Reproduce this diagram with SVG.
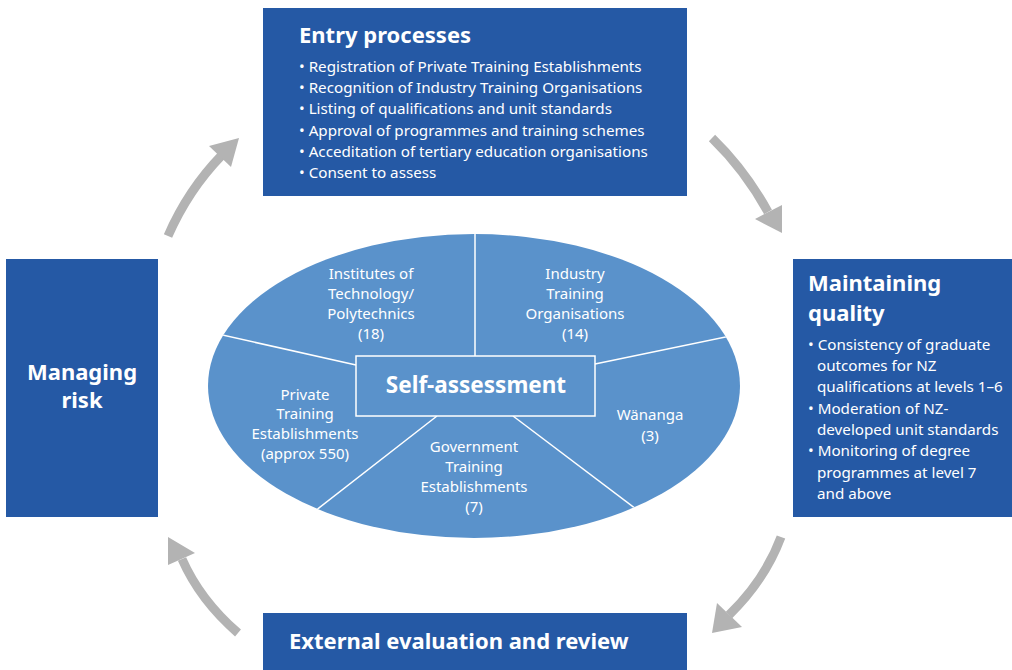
<svg xmlns="http://www.w3.org/2000/svg" width="1012" height="670" viewBox="0 0 1012 670">
<style>
.box{fill:#2559a5}
.t{font-family:"Noto Sans","Liberation Sans",sans-serif;fill:#fff}
.h{font-size:22px;font-weight:bold}
.b{font-size:15.2px}
.e{font-size:15px;text-anchor:middle}
.sh{fill:none;stroke:#b3b3b3;stroke-width:9}
.hd{fill:#b3b3b3}
.sep{stroke:#fff;stroke-width:1.5;fill:none}
</style>
<defs>
<clipPath id="ec"><ellipse cx="474" cy="386" rx="266" ry="152"/></clipPath>
</defs>
<rect width="1012" height="670" fill="#fff"/>
<g id="entry">
<rect class="box" x="263" y="8" width="424" height="188"/>
<text class="t h" x="299" y="43">Entry processes</text>
<text class="t b" x="299" y="72">• Registration of Private Training Establishments</text>
<text class="t b" x="299" y="93">• Recognition of Industry Training Organisations</text>
<text class="t b" x="299" y="114">• Listing of qualifications and unit standards</text>
<text class="t b" x="299" y="136">• Approval of programmes and training schemes</text>
<text class="t b" x="299" y="157">• Acceditation of tertiary education organisations</text>
<text class="t b" x="299" y="178">• Consent to assess</text>
</g>
<g id="managing">
<rect class="box" x="6" y="259" width="152" height="258"/>
<text class="t h" x="82" y="380" text-anchor="middle">Managing</text>
<text class="t h" x="82" y="408" text-anchor="middle">risk</text>
</g>
<g id="maintaining">
<rect class="box" x="793" y="259" width="219" height="258"/>
<text class="t h" x="808" y="291">Maintaining</text>
<text class="t h" x="808" y="321">quality</text>
<text class="t b" x="808" y="350">• Consistency of graduate</text>
<text class="t b" x="817" y="371">outcomes for NZ</text>
<text class="t b" x="817" y="392">qualifications at levels 1–6</text>
<text class="t b" x="808" y="414">• Moderation of NZ-</text>
<text class="t b" x="817" y="435">developed unit standards</text>
<text class="t b" x="808" y="456">• Monitoring of degree</text>
<text class="t b" x="817" y="478">programmes at level 7</text>
<text class="t b" x="817" y="499">and above</text>
</g>
<g id="external">
<rect class="box" x="263" y="613" width="424" height="57"/>
<text class="t h" x="289" y="649">External evaluation and review</text>
</g>
<g id="sectors">
<ellipse cx="474" cy="386" rx="266" ry="152" fill="#5a92cb"/>
<g clip-path="url(#ec)">
<path class="sep" d="M475,230 L475,356"/>
<path class="sep" d="M200,330 L356,365"/>
<path class="sep" d="M595,364 L750,332"/>
<path class="sep" d="M437,416 L315,511"/>
<path class="sep" d="M513,416 L640,512"/>
</g>
<text class="t e" x="371" y="279">Institutes of</text>
<text class="t e" x="371" y="299">Technology/</text>
<text class="t e" x="371" y="319">Polytechnics</text>
<text class="t e" x="371" y="339">(18)</text>
<text class="t e" x="575" y="279">Industry</text>
<text class="t e" x="575" y="299">Training</text>
<text class="t e" x="575" y="319">Organisations</text>
<text class="t e" x="575" y="339">(14)</text>
<text class="t e" x="305" y="400">Private</text>
<text class="t e" x="305" y="419">Training</text>
<text class="t e" x="305" y="439">Establishments</text>
<text class="t e" x="305" y="459">(approx 550)</text>
<text class="t e" x="474" y="452">Government</text>
<text class="t e" x="474" y="472">Training</text>
<text class="t e" x="474" y="492">Establishments</text>
<text class="t e" x="474" y="512">(7)</text>
<text class="t e" x="650" y="420">Wänanga</text>
<text class="t e" x="650" y="441">(3)</text>
</g>
<g id="self">
<rect x="356" y="356" width="239" height="60" fill="#5a92cb" stroke="#fff" stroke-width="1.5"/>
<text class="t h" x="476" y="393" text-anchor="middle" style="font-size:22.5px">Self-assessment</text>
</g>
<g id="connectors">
<path class="sh" d="M168,236 Q188,190 222,155"/>
<polygon class="hd" points="209,146 239,138 231,167"/>
<path class="sh" d="M712,138 Q745,170 768,212"/>
<polygon class="hd" points="755,219 782,205 782,233"/>
<path class="sh" d="M781,537 Q765,580 729,615"/>
<polygon class="hd" points="717,603 742,627 712,633"/>
<path class="sh" d="M238,633 Q200,600 182,559"/>
<polygon class="hd" points="168,537 195,553 168,565"/>
</g>
</svg>
